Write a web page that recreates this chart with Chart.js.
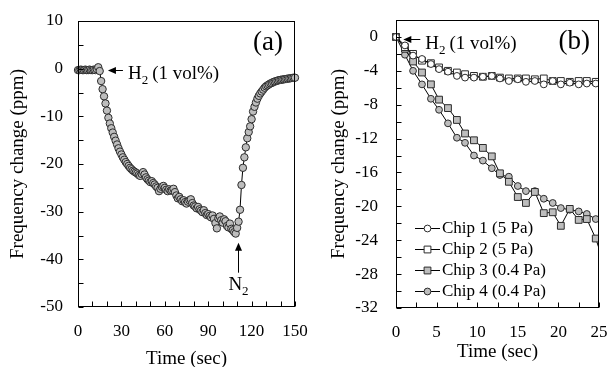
<!DOCTYPE html>
<html lang="en">
<head>
<meta charset="UTF-8">
<title>Frequency change</title>
<script src="https://cdn.jsdelivr.net/npm/chart.js@4"></script>
<style>
  body { margin: 0; background: #fff; }
  #wrapA { position: absolute; left: 0; top: 0; width: 312px; height: 367px; }
  #wrapB { position: absolute; left: 312px; top: 0; width: 297px; height: 367px; }
</style>
</head>
<body>
<div id="wrapA"><canvas id="chartA"></canvas></div>
<div id="wrapB"><canvas id="chartB"></canvas></div>
<script>
// panel (a): one chip, H2 on then N2 purge
const timeA = [];
for (let t = 0; t <= 150; t++) timeA.push(t);
const freqA = [
  -0.3, -0.3, -0.2, -0.3, -0.3, -0.2, -0.3, -0.3, -0.2, -0.3,
  -0.3, -0.2, -0.3, -0.1, 0.3, -0.5, -2.6, -4.3, -5.8, -7.3,
  -8.8, -10.3, -11.5, -12.5, -13.4, -14.3, -15.1, -15.9, -16.7, -17.4,
  -18.0, -18.6, -19.1, -19.6, -20.0, -20.4, -20.8, -21.1, -21.4, -21.6,
  -21.8, -22.0, -22.3, -22.5, -22.1, -21.7, -22.2, -22.8, -23.2, -23.5,
  -23.8, -23.6, -24.0, -24.3, -24.7, -25.0, -25.7, -25.2, -24.8, -24.6,
  -25.0, -25.4, -25.7, -25.3, -25.6, -25.5, -25.2, -25.9, -26.6, -27.2,
  -26.9, -27.4, -27.8, -27.6, -28.0, -28.3, -27.9, -27.6, -27.4, -28.2,
  -28.7, -28.9, -29.3, -29.0, -29.5, -29.8, -30.1, -29.7, -30.3, -30.7,
  -30.5, -30.9, -31.2, -30.8, -31.5, -32.4, -33.5, -31.4, -31.0, -31.8,
  -32.3, -31.6, -32.0, -33.0, -33.3, -32.5, -33.6, -33.9, -34.3, -34.6,
  -33.4, -32.1, -29.6, -24.4, -20.8, -18.6, -16.5, -14.6, -13.3, -12.1,
  -10.6, -9.0, -8.0, -7.1, -6.3, -5.7, -5.2, -4.8, -4.4, -4.0,
  -3.7, -3.5, -3.3, -3.1, -3.0, -2.8, -2.7, -2.6, -2.5, -2.4,
  -2.35, -2.3, -2.25, -2.2, -2.15, -2.1, -2.05, -2.0, -1.95, -1.9,
  -1.9
];

// panel (b): four chips
const timeB = [0, 1.1, 2.1, 3.2, 4.3, 5.3, 6.4, 7.5, 8.5, 9.6, 10.7, 11.8, 12.8,
  13.9, 15.0, 16.0, 17.1, 18.2, 19.3, 20.3, 21.4, 22.5, 23.5, 24.6, 25.7];
const chip1 = [0, -1.0, -2.2, -2.6, -3.2, -3.8, -4.1, -4.6, -4.8, -4.8, -4.7, -4.6, -4.9,
  -5.2, -5.0, -5.3, -5.2, -5.6, -5.2, -5.6, -5.4, -5.6, -5.5, -5.5, -5.6];
const chip2 = [0, -1.2, -2.0, -2.8, -3.1, -3.6, -4.0, -4.2, -4.4, -4.6, -4.7, -4.6, -4.8,
  -4.9, -4.9, -4.9, -5.0, -4.9, -5.2, -5.2, -5.3, -5.2, -5.2, -5.3, -5.4];
const chip3 = [0, -1.4, -2.9, -4.2, -5.6, -7.4, -8.4, -9.8, -11.4, -12.2, -13.1, -14.1, -16.1,
  -17.1, -18.9, -19.6, -18.3, -20.8, -20.7, -22.3, -20.3, -21.6, -21.5, -23.8, -27.0];
const chip4 = [0, -2.1, -4.0, -5.6, -7.3, -8.6, -10.2, -11.9, -12.5, -14.0, -14.6, -15.5, -16.3,
  -16.5, -17.6, -18.2, -18.2, -19.1, -19.6, -20.2, -20.4, -20.6, -20.9, -21.5, -22.0];
const chipLabels = ['Chip 1 (5 Pa)', 'Chip 2 (5 Pa)', 'Chip 3 (0.4 Pa)', 'Chip 4 (0.4 Pa)'];

const serif = "'Liberation Serif', 'Times New Roman', serif";
Chart.defaults.font.family = serif;
Chart.defaults.color = '#000';
const GRAY = '#bdbdbd';
const EDGE = '#2b2b2b';

function pts(xs, ys) {
  return xs.map((x, i) => ({ x: x, y: ys[i] }));
}

function isMult(v, m) {
  const r = Math.abs(v / m - Math.round(v / m));
  return r < 1e-6;
}

// fixed box sizes so the plot areas land where the original has them
function noPad(s) {
  s.paddingLeft = 0; s.paddingRight = 0;
  s.paddingTop = 0; s.paddingBottom = 0;
}

function xAxis(min, max, step, every, h, titlePad) {
  return {
    type: 'linear', min: min, max: max,
    ticks: {
      stepSize: step, autoSkip: false, maxRotation: 0, padding: 14,
      font: { size: 17 },
      callback: v => isMult(v, every) ? String(v) : ''
    },
    grid: { display: false, drawTicks: false },
    border: { display: false },
    title: {
      display: true, text: 'Time (sec)',
      font: { size: 19, lineHeight: 0.8 },
      padding: { top: 0, bottom: titlePad }
    },
    afterFit: s => { s.height = h; noPad(s); }
  };
}

function yAxis(min, max, step, every, w, labelPad, titlePad) {
  return {
    type: 'linear', min: min, max: max,
    ticks: {
      stepSize: step, autoSkip: false, padding: labelPad,
      font: { size: 17 },
      callback: v => isMult(v, every) ? String(v) : ''
    },
    grid: { display: false, drawTicks: false },
    border: { display: false },
    title: {
      display: true, text: 'Frequency change (ppm)',
      font: { size: 19, lineHeight: 0.8 },
      padding: { top: titlePad, bottom: 0 }
    },
    afterFit: s => { s.width = w; noPad(s); }
  };
}

// box around plot area plus inward tick marks
const frameTicks = {
  id: 'frameTicks',
  afterDraw(chart) {
    const { ctx, chartArea: a, scales } = chart;
    const L = Math.round(a.left) + 0.5, R = Math.round(a.right) - 0.5;
    const T = Math.round(a.top) + 0.5, B = Math.round(a.bottom) - 0.5;
    ctx.save();
    ctx.strokeStyle = '#000';
    ctx.lineWidth = 1;
    ctx.strokeRect(L, T, R - L, B - T);
    ctx.beginPath();
    scales.x.ticks.forEach(t => {
      const px = Math.round(scales.x.getPixelForValue(t.value)) + 0.5;
      ctx.moveTo(px, B); ctx.lineTo(px, B - 5);
    });
    scales.y.ticks.forEach(t => {
      const py = Math.round(scales.y.getPixelForValue(t.value)) + 0.5;
      ctx.moveTo(L, py); ctx.lineTo(L + 5, py);
    });
    ctx.stroke();
    ctx.restore();
  }
};

function arrowHead(ctx, x, y, dx, dy) {
  // filled triangle pointing along (dx, dy)
  const len = 8, half = 3.5;
  const bx = x - dx * len, by = y - dy * len;
  ctx.beginPath();
  ctx.moveTo(x, y);
  ctx.lineTo(bx - dy * half, by + dx * half);
  ctx.lineTo(bx + dy * half, by - dx * half);
  ctx.closePath();
  ctx.fill();
}

function gasLabel(ctx, x, y, main, sub, rest, size) {
  ctx.font = size + 'px ' + serif;
  ctx.fillText(main, x, y);
  let w = ctx.measureText(main).width;
  ctx.font = Math.round(size * 0.68) + 'px ' + serif;
  ctx.fillText(sub, x + w, y + 5);
  w += ctx.measureText(sub).width;
  ctx.font = size + 'px ' + serif;
  ctx.fillText(rest, x + w + 4, y);
  return w + 4 + ctx.measureText(rest).width;
}

function gasWidth(ctx, main, sub, rest, size) {
  ctx.font = size + 'px ' + serif;
  let w = ctx.measureText(main).width;
  ctx.font = Math.round(size * 0.68) + 'px ' + serif;
  w += ctx.measureText(sub).width;
  ctx.font = size + 'px ' + serif;
  return w + 4 + ctx.measureText(rest).width;
}

function panelTag(ctx, a, text, dx) {
  ctx.font = '27px ' + serif;
  ctx.textAlign = 'right';
  ctx.textBaseline = 'middle';
  ctx.fillText(text, a.right - dx, a.top + 22);
}

const notesA = {
  id: 'notesA',
  afterDraw(chart) {
    const { ctx, chartArea: a, scales: { x, y } } = chart;
    ctx.save();
    ctx.fillStyle = '#000';
    ctx.strokeStyle = '#000';
    ctx.lineWidth = 1;
    // H2 arrow
    const hx = x.getPixelForValue(20.7), hy = Math.round(y.getPixelForValue(-0.3)) + 0.5;
    ctx.beginPath(); ctx.moveTo(hx + 4, hy); ctx.lineTo(hx + 15, hy); ctx.stroke();
    arrowHead(ctx, hx, hy, -1, 0);
    ctx.textAlign = 'left';
    ctx.textBaseline = 'alphabetic';
    gasLabel(ctx, hx + 20, hy + 8, 'H', '2', '(1 vol%)', 19);
    // N2 arrow
    const nx = Math.round(x.getPixelForValue(110.6)) + 0.5;
    const ny = y.getPixelForValue(-36.5);
    const nt = y.getPixelForValue(-42.8);
    ctx.beginPath(); ctx.moveTo(nx, ny + 4); ctx.lineTo(nx, nt); ctx.stroke();
    arrowHead(ctx, nx, ny, 0, -1);
    const nw = gasWidth(ctx, 'N', '2', '', 19) - 4;
    gasLabel(ctx, nx - nw / 2, y.getPixelForValue(-46.4), 'N', '2', '', 19);
    panelTag(ctx, a, '(a)', 12);
    ctx.restore();
  }
};

const notesB = {
  id: 'notesB',
  afterDraw(chart) {
    const { ctx, chartArea: a, scales: { x, y } } = chart;
    ctx.save();
    ctx.fillStyle = '#000';
    ctx.strokeStyle = '#000';
    ctx.lineWidth = 1;
    const hx = x.getPixelForValue(0.9), hy = Math.round(y.getPixelForValue(-0.25)) + 0.5;
    ctx.beginPath(); ctx.moveTo(hx + 4, hy); ctx.lineTo(hx + 17, hy); ctx.stroke();
    arrowHead(ctx, hx, hy, -1, 0);
    ctx.textAlign = 'left';
    ctx.textBaseline = 'alphabetic';
    gasLabel(ctx, hx + 22, hy + 9, 'H', '2', '(1 vol%)', 19);
    panelTag(ctx, a, '(b)', 9);

    // legend: line with marker, then text
    ctx.font = '17px ' + serif;
    ctx.textBaseline = 'middle';
    ctx.textAlign = 'left';
    chart.data.datasets.forEach((ds, i) => {
      const ly = Math.round(a.top + 208 + i * 21) + 0.5;
      const x1 = a.left + 19, x2 = a.left + 44, cx = (x1 + x2) / 2;
      ctx.strokeStyle = '#000';
      ctx.beginPath(); ctx.moveTo(x1, ly); ctx.lineTo(x2, ly); ctx.stroke();
      ctx.fillStyle = ds.pointBackgroundColor;
      ctx.strokeStyle = ds.pointBorderColor;
      ctx.beginPath();
      if (ds.pointStyle === 'rect') {
        const s = ds.pointRadius * Math.SQRT1_2;
        ctx.rect(cx - s, ly - s, 2 * s, 2 * s);
      } else {
        ctx.arc(cx, ly, ds.pointRadius, 0, Math.PI * 2);
      }
      ctx.fill(); ctx.stroke();
      ctx.fillStyle = '#000';
      ctx.fillText(ds.label, x2 + 2, ly);
    });
    ctx.restore();
  }
};

function chipSet(label, ys, style, fill, r) {
  return {
    label: label,
    data: pts(timeB, ys),
    showLine: true,
    borderColor: '#000',
    borderWidth: 1,
    pointStyle: style,
    pointRadius: r,
    pointBackgroundColor: fill,
    pointBorderColor: EDGE,
    pointBorderWidth: 1,
    clip: { left: 8, top: 8, right: 0, bottom: 0 }
  };
}

new Chart(document.getElementById('chartA'), {
  type: 'scatter',
  data: {
    datasets: [{
      label: 'Frequency change',
      data: pts(timeA, freqA),
      showLine: true,
      borderColor: '#000',
      borderWidth: 1,
      pointRadius: 3.7,
      pointBackgroundColor: GRAY,
      pointBorderColor: EDGE,
      pointBorderWidth: 1,
      clip: false
    }]
  },
  options: {
    responsive: true,
    maintainAspectRatio: false,
    animation: false,
    layout: { padding: { left: 0, right: 17, top: 21, bottom: 0 } },
    plugins: { legend: { display: false }, tooltip: { enabled: false } },
    scales: {
      x: xAxis(0, 150, 10, 30, 60, 0),
      y: yAxis(-50, 10, 5, 10, 78, 15, 10)
    }
  },
  plugins: [frameTicks, notesA]
});

new Chart(document.getElementById('chartB'), {
  type: 'scatter',
  data: {
    datasets: [
      chipSet(chipLabels[0], chip1, 'circle', '#fff', 3.4),
      chipSet(chipLabels[1], chip2, 'rect', '#fff', 4.8),
      chipSet(chipLabels[2], chip3, 'rect', GRAY, 4.8),
      chipSet(chipLabels[3], chip4, 'circle', GRAY, 3.4)
    ]
  },
  options: {
    responsive: true,
    maintainAspectRatio: false,
    animation: false,
    layout: { padding: { left: 0, right: 10, top: 20, bottom: 0 } },
    plugins: { legend: { display: false }, tooltip: { enabled: false } },
    scales: {
      x: xAxis(0, 25, 2.5, 5, 59, 7),
      y: yAxis(-32, 2, 2, 4, 84, 18, 19)
    }
  },
  plugins: [frameTicks, notesB]
});
</script>
</body>
</html>
